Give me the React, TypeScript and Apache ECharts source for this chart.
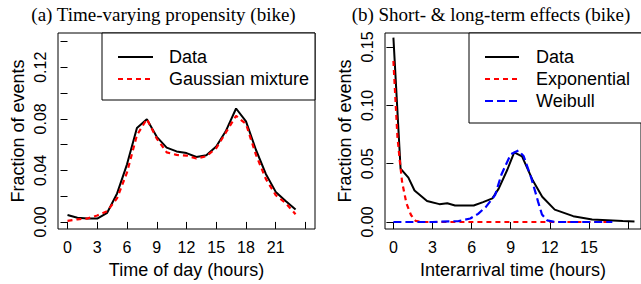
import React, { useEffect, useRef } from 'react';
import * as echarts from 'echarts';

// ---- Panel (a): time-varying propensity ----
const hours = [0, 1, 2, 3, 4, 5, 6, 7, 8, 9, 10, 11, 12, 13, 14, 15, 16, 17, 18, 19, 20, 21, 22, 23];
const bikeData = [0.0053, 0.0033, 0.0026, 0.0026, 0.0071, 0.0221, 0.0447, 0.0728, 0.0796, 0.066, 0.0577, 0.0547, 0.0534, 0.0504, 0.0517, 0.0585, 0.071, 0.088, 0.078, 0.056, 0.0372, 0.0233, 0.0163, 0.0096];
const gaussianMix = [0.0008, 0.002, 0.0026, 0.005, 0.0083, 0.0184, 0.0384, 0.0673, 0.0798, 0.0647, 0.054, 0.052, 0.0515, 0.0492, 0.051, 0.0572, 0.0698, 0.0823, 0.076, 0.0522, 0.0334, 0.0208, 0.0146, 0.006];
const hourTicks = [0, 3, 6, 9, 12, 15, 18, 21, 24];
const hourLabels = [0, 3, 6, 9, 12, 15, 18, 21];
const fracTicksA = [0, 0.02, 0.04, 0.06, 0.08, 0.1, 0.12, 0.14];
const fracLabelsA = [0, 0.04, 0.08, 0.12];

// ---- Panel (b): short- & long-term effects ----
const interX = [0, 0.55, 1.15, 1.62, 2.58, 3.53, 4.13, 4.73, 6.16, 6.88, 7.6, 8.08, 8.75, 9.27, 9.87, 10.7, 11.42, 12.38, 13.8, 15.25, 17.6, 18.5];
const interData = [0.158, 0.0458, 0.038, 0.027, 0.018, 0.0153, 0.0161, 0.0141, 0.0141, 0.017, 0.0203, 0.0286, 0.045, 0.0597, 0.0563, 0.0355, 0.0216, 0.0106, 0.005, 0.0022, 0.0008, 0.0005];
const expX = [0, 0.07, 0.31, 0.48, 0.67, 1.0, 1.35, 1.7, 2.2, 6, 10, 14, 16.8];
const expY = [0.138, 0.123, 0.073, 0.0536, 0.034, 0.016, 0.006, 0.001, 0, 0, 0, 0, 0];
const weibX = [0, 3, 5.0, 5.9, 6.5, 7.1, 7.8, 8.3, 9.0, 9.6, 10.0, 10.6, 11.1, 11.4, 11.8, 12.4, 14, 16.8];
const weibY = [0, 0, 0.0008, 0.003, 0.007, 0.013, 0.023, 0.041, 0.058, 0.0613, 0.0563, 0.037, 0.0175, 0.0064, 0.0014, 0, 0, 0];
const interTicks = [0, 3, 6, 9, 12, 15, 18];
const interLabels = [0, 3, 6, 9, 12, 15];
const fracTicksB = [0, 0.05, 0.1, 0.15];

const SANS = 'Liberation Sans, Arial, Helvetica, sans-serif';
const SERIF = 'Liberation Serif, Times New Roman, serif';

const zip = (xs: number[], ys: number[]) => xs.map((x, i) => [x, ys[i]]);

function xAxisBase(gridIndex: number, min: number, max: number, ticks: number[], labels: number[], name: string) {
  return {
    type: 'value', gridIndex, min, max,
    axisLine: { show: false },
    splitLine: { show: false },
    axisTick: { show: true, length: 7, customValues: ticks, lineStyle: { color: '#000', width: 1 } },
    axisLabel: { customValues: labels, color: '#000', fontFamily: SANS, fontSize: 16, margin: 10 },
    name, nameLocation: 'middle', nameGap: 32,
    nameTextStyle: { color: '#000', fontFamily: SANS, fontSize: 18 },
  };
}

function yAxisBase(gridIndex: number, min: number, max: number, ticks: number[], labels: number[]) {
  return {
    type: 'value', gridIndex, min, max,
    axisLine: { show: false },
    splitLine: { show: false },
    axisTick: { show: true, length: 7, customValues: ticks, lineStyle: { color: '#000', width: 1 } },
    axisLabel: {
      customValues: labels, color: '#000', fontFamily: SANS, fontSize: 16, margin: 10, rotate: 90,
      formatter: (v: number) => v.toFixed(2),
    },
    name: 'Fraction of events', nameLocation: 'middle', nameGap: 31,
    nameTextStyle: { color: '#000', fontFamily: SANS, fontSize: 18 },
  };
}

export default function App() {
  const ref = useRef<HTMLDivElement>(null);
  useEffect(() => {
    const chart = echarts.init(ref.current!, null, { renderer: 'svg' });
    const legendText = (x: number, y: number, text: string) => ({
      type: 'text', x, y, z: 101,
      style: { text, fill: '#000', font: `18px ${SANS}`, align: 'left', verticalAlign: 'middle' },
    });
    const legendLine = (x1: number, x2: number, y: number, color: string, dash: number[] | null) => ({
      type: 'line', z: 101,
      shape: { x1, y1: y, x2, y2: y },
      style: { stroke: color, lineWidth: 2, lineDash: dash || undefined },
    });
    chart.setOption({
      animation: false,
      backgroundColor: '#fff',
      grid: [
        { left: 58, top: 33, right: 326, bottom: 49.5, show: true, borderColor: '#000', borderWidth: 1, backgroundColor: 'transparent' },
        { left: 385, top: 33, right: -18, bottom: 49.5, show: true, borderColor: '#000', borderWidth: 1, backgroundColor: 'transparent' },
      ],
      xAxis: [
        xAxisBase(0, -0.96, 24.96, hourTicks, hourLabels, 'Time of day (hours)'),
        xAxisBase(1, -0.645, 19, interTicks, interLabels, 'Interarrival time (hours)'),
      ],
      yAxis: [
        yAxisBase(0, -0.0055, 0.1466, fracTicksA, fracLabelsA),
        yAxisBase(1, -0.006, 0.162, fracTicksB, fracTicksB),
      ],
      series: [
        { name: 'Data', type: 'line', xAxisIndex: 0, yAxisIndex: 0, data: zip(hours, bikeData), showSymbol: false, lineStyle: { color: '#000', width: 2 } },
        { name: 'Gaussian mixture', type: 'line', xAxisIndex: 0, yAxisIndex: 0, data: zip(hours, gaussianMix), showSymbol: false, lineStyle: { color: '#ff0000', width: 2.2, type: [5, 4] } },
        { name: 'Data', type: 'line', xAxisIndex: 1, yAxisIndex: 1, data: zip(interX, interData), showSymbol: false, lineStyle: { color: '#000', width: 2 } },
        { name: 'Exponential', type: 'line', xAxisIndex: 1, yAxisIndex: 1, data: zip(expX, expY), showSymbol: false, lineStyle: { color: '#ff0000', width: 2.2, type: [5, 4] } },
        { name: 'Weibull', type: 'line', xAxisIndex: 1, yAxisIndex: 1, data: zip(weibX, weibY), showSymbol: false, lineStyle: { color: '#0000ff', width: 2.2, type: [8, 4] } },
      ],
      graphic: [
        { type: 'text', x: 163.5, y: 14, style: { text: '(a) Time-varying propensity (bike)', fill: '#000', font: `19px ${SERIF}`, align: 'center', verticalAlign: 'middle' } },
        { type: 'text', x: 491, y: 14, style: { text: '(b) Short- & long-term effects (bike)', fill: '#000', font: `19px ${SERIF}`, align: 'center', verticalAlign: 'middle' } },
        { type: 'rect', z: 100, shape: { x: 102, y: 33, width: 213, height: 67 }, style: { fill: '#fff', stroke: '#000', lineWidth: 1 } },
        legendLine(118, 153, 57, '#000', null),
        legendLine(118, 153, 79, '#ff0000', [5, 4]),
        legendText(169, 57, 'Data'),
        legendText(169, 79, 'Gaussian mixture'),
        { type: 'rect', z: 100, shape: { x: 469, y: 33, width: 200, height: 90 }, style: { fill: '#fff', stroke: '#000', lineWidth: 1 } },
        legendLine(485, 519, 57, '#000', null),
        legendLine(485, 519, 79, '#ff0000', [5, 4]),
        legendLine(485, 519, 101, '#0000ff', [8, 4]),
        legendText(536, 57, 'Data'),
        legendText(536, 79, 'Exponential'),
        legendText(536, 101, 'Weibull'),
      ],
    });
    return () => chart.dispose();
  }, []);
  return <div ref={ref} style={{ position: 'fixed', left: 0, top: 0, width: 641, height: 284, background: '#fff' }} />;
}
